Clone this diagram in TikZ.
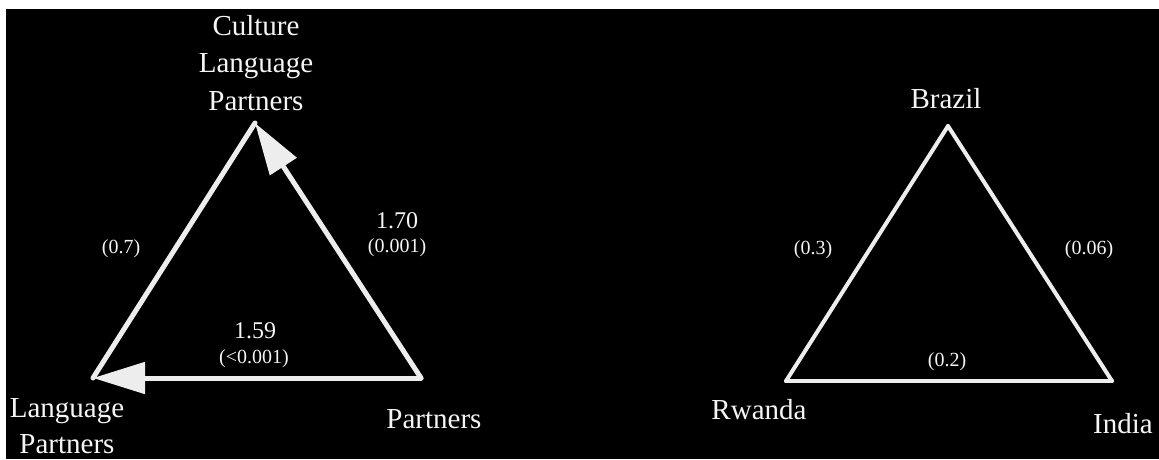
\documentclass[tikz,border=0pt]{standalone}
\usepackage{fontspec}
\setmainfont{Liberation Serif}
\usetikzlibrary{arrows.meta}
\definecolor{ink}{gray}{0.93}
\definecolor{txt}{gray}{0.96}
\begin{document}
\begin{tikzpicture}[x=1pt,y=-1pt,
  edge/.style={draw=ink, line width=5pt, line cap=round, line join=miter},
  thin edge/.style={edge, line width=4pt},
  tip/.style={-{Triangle[length=52pt,width=31pt]}},
  big/.style={text=txt, font=\fontsize{29}{37.5}\selectfont, align=center, anchor=base, inner sep=0pt},
  coef/.style={text=txt, font=\fontsize{24}{28}\selectfont, anchor=base, inner sep=0pt},
  pval/.style={text=txt, font=\fontsize{20}{24}\selectfont, anchor=base, inner sep=0pt}]
\useasboundingbox (0,0) rectangle (1159,459);
\fill[white] (0,0) rectangle (1159,459);
\fill[black] (6,9) rectangle (1159,459);

% left triangle: vertices
\coordinate (CLP) at (255,123);
\coordinate (LP)  at (93,378);
\coordinate (P)   at (421,378);
% right triangle: vertices
\coordinate (B) at (948,126);
\coordinate (R) at (786,381);
\coordinate (I) at (1112,381);

% left triangle edges
\draw[edge] (LP) -- (CLP);
\draw[edge, tip] (P) -- (CLP);
\draw[edge, tip] (P) -- (LP);

% right triangle edges
\draw[thin edge] (R) -- (B);
\draw[thin edge] (B) -- (I);
\draw[thin edge] (I) -- (R);

% vertex labels (base = baseline of the last line)
\node[big] (clpL) at (256,110) {Culture\\Language\\Partners};
\node[big, font=\fontsize{29}{36}\selectfont] (lpL) at (67,453) {Language\\Partners};
\node[big] (pL) at (434,428) {Partners};
\node[big] (bL) at (946,108) {Brazil};
\node[big] (rL) at (759,419) {Rwanda};
\node[big] (iL) at (1123,433) {India};

% edge labels, left
\node[coef] (c1) at (397,228) {1.70};
\node[pval] (p1) at (397,252) {(0.001)};
\node[pval] (p2) at (121,253) {(0.7)};
\node[coef] (c3) at (255,338) {1.59};
\node[pval] (p3) at (254,363) {(<0.001)};

% edge labels, right
\node[pval] (q1) at (813,254) {(0.3)};
\node[pval] (q2) at (1089,254) {(0.06)};
\node[pval] (q3) at (947,366) {(0.2)};
\end{tikzpicture}
\end{document}
